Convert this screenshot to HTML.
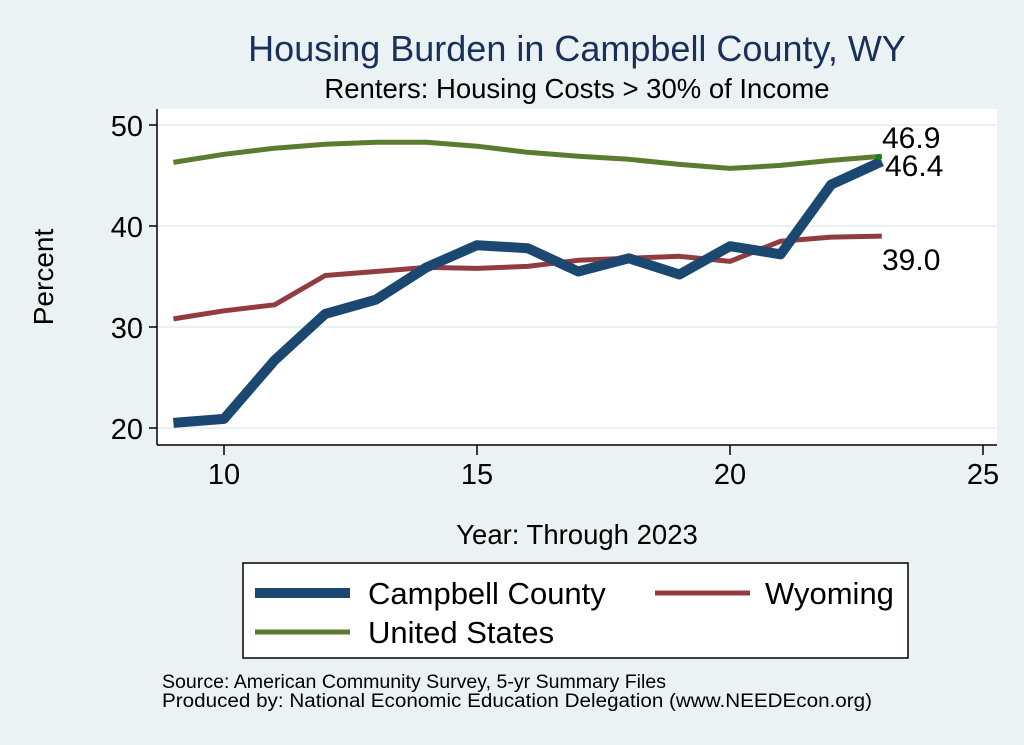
<!DOCTYPE html>
<html><head><style>
body{margin:0;background:#eaf2f3;}
svg{display:block;font-family:"Liberation Sans",sans-serif;}
</style></head><body>
<svg width="1024" height="745" xmlns="http://www.w3.org/2000/svg">
<rect width="1024" height="745" fill="#eaf2f3"/>
<rect x="157" y="109" width="840" height="336" fill="#fff"/>
<g stroke="#eaf2f3" stroke-width="2">
<line x1="157" x2="997" y1="125" y2="125"/><line x1="157" x2="997" y1="226" y2="226"/>
<line x1="157" x2="997" y1="327" y2="327"/><line x1="157" x2="997" y1="428" y2="428"/>
</g>
<g stroke="#000" stroke-width="1.5">
<line x1="157" x2="157" y1="109" y2="445"/><line x1="157" x2="997" y1="445" y2="445"/>
<line x1="149" x2="157" y1="125" y2="125"/><line x1="149" x2="157" y1="226" y2="226"/>
<line x1="149" x2="157" y1="327" y2="327"/><line x1="149" x2="157" y1="428" y2="428"/>
<line x1="224" x2="224" y1="445" y2="455"/><line x1="477" x2="477" y1="445" y2="455"/>
<line x1="730" x2="730" y1="445" y2="455"/><line x1="983" x2="983" y1="445" y2="455"/>
</g>
<g font-size="29" fill="#000" text-anchor="end">
<text x="143" y="136">50</text><text x="143" y="237">40</text><text x="143" y="338">30</text><text x="143" y="439">20</text>
</g>
<g font-size="29" fill="#000" text-anchor="middle">
<text x="224" y="484">10</text><text x="477" y="484">15</text><text x="730" y="484">20</text><text x="983" y="484">25</text>
</g>
<text x="53" y="277" font-size="28" text-anchor="middle" transform="rotate(-90 53 277)">Percent</text>
<text x="577" y="544" font-size="27.5" text-anchor="middle">Year: Through 2023</text>
<text x="577" y="61" font-size="36" fill="#1a2f5a" text-anchor="middle">Housing Burden in Campbell County, WY</text>
<text x="577" y="98" font-size="27.5" text-anchor="middle">Renters: Housing Costs &gt; 30% of Income</text>
<g id="lines" fill="none" stroke-linejoin="round"></g>
<circle cx="879" cy="157" r="3" fill="#0a8a0a"/>
<g font-size="30" fill="#000">
<text x="882" y="148">46.9</text><text x="885" y="176">46.4</text><text x="882" y="270">39.0</text>
</g>
<rect x="243" y="563" width="665" height="95" fill="#fff" stroke="#000" stroke-width="1.5"/>
<line x1="255" x2="350" y1="593" y2="593" stroke="#1b4870" stroke-width="10"/>
<line x1="655" x2="750" y1="593" y2="593" stroke="#923c42" stroke-width="5"/>
<line x1="255" x2="350" y1="632" y2="632" stroke="#5b7b2f" stroke-width="5"/>
<g font-size="31" fill="#000">
<text x="368" y="604">Campbell County</text><text x="765" y="604">Wyoming</text><text x="368" y="643">United States</text>
</g>
<g font-size="19" fill="#000">
<text x="162" y="688" textLength="504" lengthAdjust="spacingAndGlyphs">Source: American Community Survey, 5-yr Summary Files</text>
<text x="162" y="707" textLength="710" lengthAdjust="spacingAndGlyphs">Produced by: National Economic Education Delegation (www.NEEDEcon.org)</text>
</g>
</svg>
<script>
var d={
"#5b7b2f":[5,[46.3,47.1,47.7,48.1,48.3,48.3,47.9,47.3,46.9,46.6,46.1,45.7,46.0,46.5,46.9]],
"#923c42":[5,[30.8,31.6,32.2,35.1,35.5,35.9,35.8,36.0,36.6,36.8,37.0,36.5,38.5,38.9,39.0]],
"#1b4870":[10,[20.5,20.9,26.7,31.3,32.7,35.9,38.1,37.8,35.5,36.8,35.2,38.0,37.2,44.1,46.4]]};
var g=document.getElementById('lines'),ns="http://www.w3.org/2000/svg";
for(var c in d){var p=d[c][1].map(function(v,i){return (173.4+i*50.6).toFixed(1)+","+(428-(v-20)*10.1).toFixed(1);}).join(" ");
var e=document.createElementNS(ns,"polyline");e.setAttribute("points",p);e.setAttribute("stroke",c);e.setAttribute("stroke-width",d[c][0]);g.appendChild(e);}
</script>
</body></html>
